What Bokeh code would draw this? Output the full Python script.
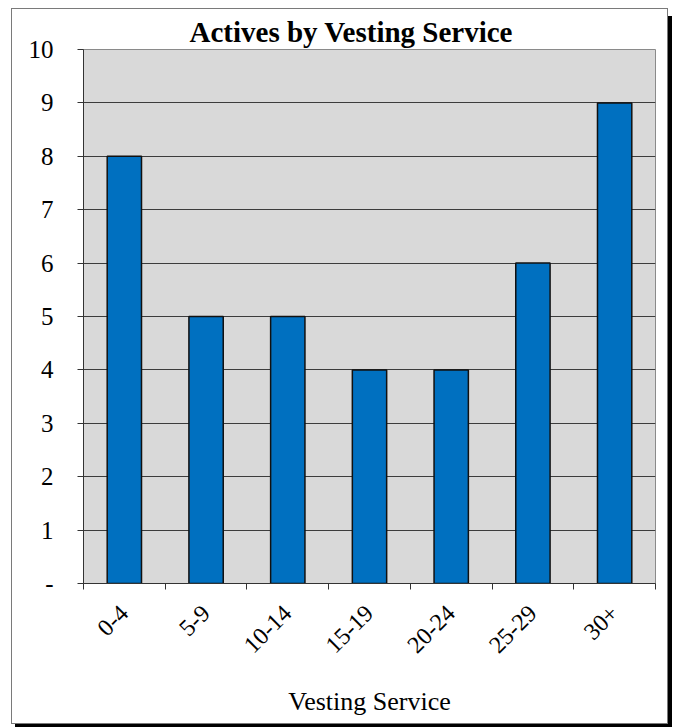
from math import pi

from bokeh.embed import file_html
from bokeh.models import ColumnDataSource, FixedTicker, Range1d
from bokeh.plotting import figure
from bokeh.resources import INLINE

# Active members by years of vesting service
categories = ["0-4", "5-9", "10-14", "15-19", "20-24", "25-29", "30+"]
actives = [8, 5, 5, 4, 4, 6, 9]
y_ticks = [0, 1, 2, 3, 4, 5, 6, 7, 8, 9, 10]
y_tick_overrides = {0: "-"}

SERIF = "Liberation Serif"

centers = [i + 0.5 for i in range(len(categories))]
bounds = list(range(len(categories) + 1))
source = ColumnDataSource(dict(x=centers, top=actives, cat=categories))

p = figure(
    width=657,
    height=716,
    x_range=Range1d(0, len(categories)),
    y_range=Range1d(0, 10),
    output_backend="svg",
    toolbar_location=None,
    min_border_left=71,
    min_border_right=14,
    min_border_top=40,
    min_border_bottom=142,
    title="Actives by Vesting Service",
)
p.styles = {
    "margin-left": "11px",
    "margin-top": "8px",
    "border": "1px solid #7a7a7a",
    "box-shadow": "4px 8px 0 #000000",
}

p.title.text_font = SERIF
p.title.text_font_style = "bold"
p.title.text_font_size = "29px"
p.title.align = "left"
p.title.offset = 106
p.title.standoff = 4
p.title.text_color = "#000000"

p.background_fill_color = "#d9d9d9"
p.border_fill_color = "#ffffff"
p.outline_line_color = "#8a8a8a"

p.vbar(x="x", top="top", width=0.42, source=source,
       fill_color="#0070c0", line_color="#111111", line_width=1.5)

# y axis: integer ticks, zero shown as a dash
p.yaxis.ticker = FixedTicker(ticks=y_ticks)
p.yaxis.major_label_overrides = y_tick_overrides
p.yaxis.major_label_text_font = SERIF
p.yaxis.major_label_text_font_size = "25px"
p.yaxis.major_label_text_color = "#000000"
p.yaxis.major_label_standoff = 24
p.yaxis.major_tick_in = 0
p.yaxis.major_tick_out = 6
p.yaxis.minor_tick_line_color = None
p.yaxis.axis_line_color = "#333333"
p.yaxis.major_tick_line_color = "#333333"

# x axis: labels at bar centres, tick marks at category boundaries
p.xaxis.ticker = FixedTicker(ticks=centers, minor_ticks=bounds)
p.xaxis.major_label_overrides = {c: cat for c, cat in zip(centers, categories)}
p.xaxis.major_label_orientation = pi / 4
p.xaxis.major_label_text_font = SERIF
p.xaxis.major_label_text_font_size = "24px"
p.xaxis.major_label_text_color = "#000000"
p.xaxis.major_label_standoff = 20
p.xaxis.major_tick_line_color = None
p.xaxis.minor_tick_in = 0
p.xaxis.minor_tick_out = 6
p.xaxis.minor_tick_line_color = "#333333"
p.xaxis.axis_line_color = "#333333"
p.xaxis.axis_label = "Vesting Service"
p.xaxis.axis_label_text_font = SERIF
p.xaxis.axis_label_text_font_style = "normal"
p.xaxis.axis_label_text_font_size = "26px"
p.xaxis.axis_label_text_color = "#000000"
p.xaxis.axis_label_standoff = 24

p.xgrid.visible = False
p.ygrid.grid_line_color = "#3c3c3c"
p.ygrid.grid_line_width = 1

open("out.html", "w").write(file_html(p, INLINE))
